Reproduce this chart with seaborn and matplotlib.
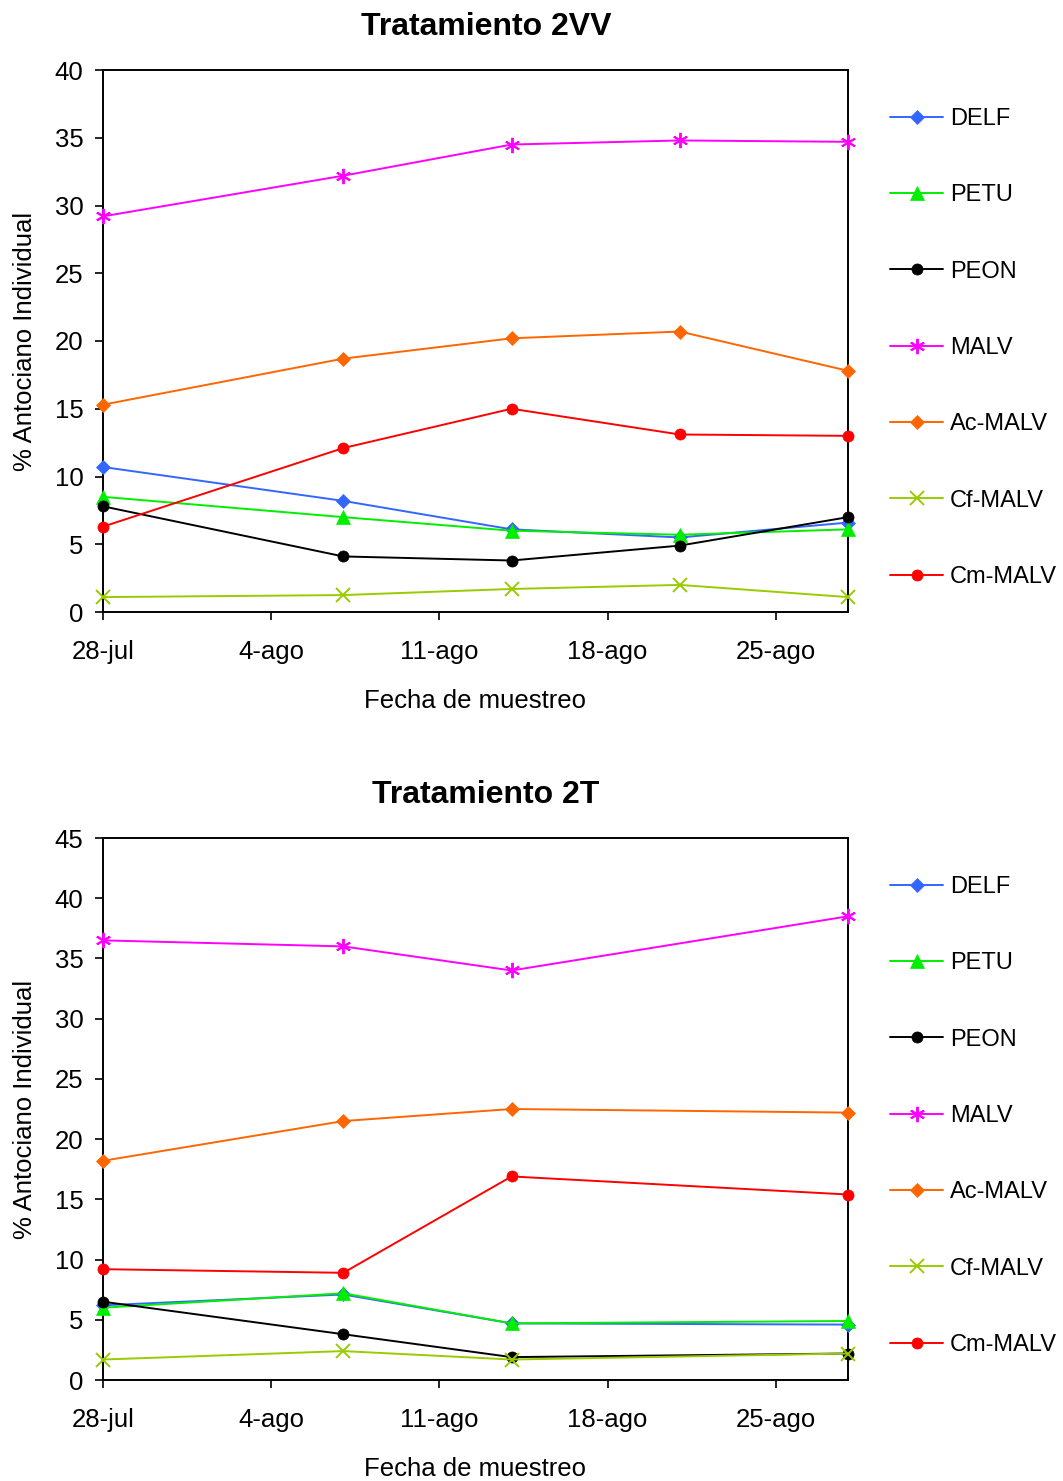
import numpy as np
import pandas as pd
import matplotlib
matplotlib.use("Agg")
import matplotlib.pyplot as plt
import seaborn as sns

# ---- data ----
dates_2vv = ["2009-07-28", "2009-08-07", "2009-08-14", "2009-08-21", "2009-08-28"]
dates_2t = ["2009-07-28", "2009-08-07", "2009-08-14", "2009-08-28"]
tick_dates = ["2009-07-28", "2009-08-04", "2009-08-11", "2009-08-18", "2009-08-25"]
tick_labels = ["28-jul", "4-ago", "11-ago", "18-ago", "25-ago"]
series_names = ["DELF", "PETU", "PEON", "MALV", "Ac-MALV", "Cf-MALV", "Cm-MALV"]

delf_2vv = [10.7, 8.2, 6.1, 5.5, 6.6]
petu_2vv = [8.5, 7.0, 6.0, 5.7, 6.1]
peon_2vv = [7.8, 4.1, 3.8, 4.9, 7.0]
malv_2vv = [29.2, 32.2, 34.5, 34.8, 34.7]
acmalv_2vv = [15.3, 18.7, 20.2, 20.7, 17.8]
cfmalv_2vv = [1.1, 1.25, 1.7, 2.0, 1.1]
cmmalv_2vv = [6.3, 12.1, 15.0, 13.1, 13.0]

delf_2t = [6.2, 7.1, 4.7, 4.6]
petu_2t = [6.0, 7.2, 4.7, 4.9]
peon_2t = [6.5, 3.8, 1.9, 2.2]
malv_2t = [36.5, 36.0, 34.0, 38.5]
acmalv_2t = [18.2, 21.5, 22.5, 22.2]
cfmalv_2t = [1.7, 2.4, 1.7, 2.2]
cmmalv_2t = [9.2, 8.9, 16.9, 15.4]

colors = ["#3366FF", "#00EE00", "#000000", "#FF00FF", "#FF6600", "#99CC00", "#FF0000"]
markers = ["D", "^", "o", (6, 2, 0), "D", "x", "o"]
msizes = [7.5, 10, 8, 11, 7.5, 10, 8]

sns.set_style("ticks")
plt.rcParams["font.family"] = ["Liberation Sans", "DejaVu Sans"]
plt.rcParams["text.color"] = "black"
plt.rcParams["axes.labelcolor"] = "black"
plt.rcParams["xtick.color"] = "black"
plt.rcParams["ytick.color"] = "black"
FS = 18.5
LFS = 17

fig = plt.figure(figsize=(10.63, 14.81), dpi=100)
W, H = 1063, 1481

base = pd.Timestamp("2009-07-28")


def days(lst):
    return [(pd.Timestamp(d) - base).days for d in lst]


panels = [
    ("Tratamiento 2VV", dates_2vv,
     [delf_2vv, petu_2vv, peon_2vv, malv_2vv, acmalv_2vv, cfmalv_2vv, cmmalv_2vv],
     70, 612, 40),
    ("Tratamiento 2T", dates_2t,
     [delf_2t, petu_2t, peon_2t, malv_2t, acmalv_2t, cfmalv_2t, cmmalv_2t],
     838, 1380, 45),
]

for title, dts, vals, top, bot, ymax in panels:
    ax = fig.add_axes([103 / W, 1 - bot / H, (848 - 103) / W, (bot - top) / H])
    x = days(dts)
    for name, v, c, m, ms in zip(series_names, vals, colors, markers, msizes):
        df = pd.DataFrame({"x": x, "y": v})
        sns.lineplot(data=df, x="x", y="y", ax=ax, color=c, marker=m,
                     markersize=ms, markeredgecolor=c, markerfacecolor=c,
                     markeredgewidth=1.4 if m in ("x", (6, 2, 0)) else 0.5,
                     linewidth=1.4, label=name, clip_on=False, zorder=3)
    ax.set_xlim(0, 31)
    ax.set_ylim(0, ymax)
    ax.set_yticks(np.arange(0, ymax + 1, 5))
    ax.set_xticks(days(tick_dates))
    ax.set_xticklabels(tick_labels)
    ax.tick_params(axis="both", labelsize=FS, direction="out", length=6,
                   width=1.2, color="black", labelcolor="black")
    ax.tick_params(axis="x", pad=14)
    ax.tick_params(axis="y", pad=8)
    for s in ax.spines.values():
        s.set_visible(True)
        s.set_color("black")
        s.set_linewidth(1.4)
    ax.set_xlabel("Fecha de muestreo", fontsize=FS, labelpad=18)
    ax.set_ylabel("% Antociano Individual", fontsize=FS, labelpad=13)
    fig.text(486 / W, 1 - (top - 43) / H, title, fontsize=23, fontweight="bold",
             ha="center", va="center")
    leg = ax.legend(loc="upper left", bbox_to_anchor=(890 / W, 1 - (top + 38) / H),
                    bbox_transform=fig.transFigure, frameon=False, fontsize=LFS,
                    handlelength=2.25, handletextpad=0.3, labelspacing=2.3,
                    borderaxespad=0, borderpad=0)

fig.savefig("out.png", dpi=100)
